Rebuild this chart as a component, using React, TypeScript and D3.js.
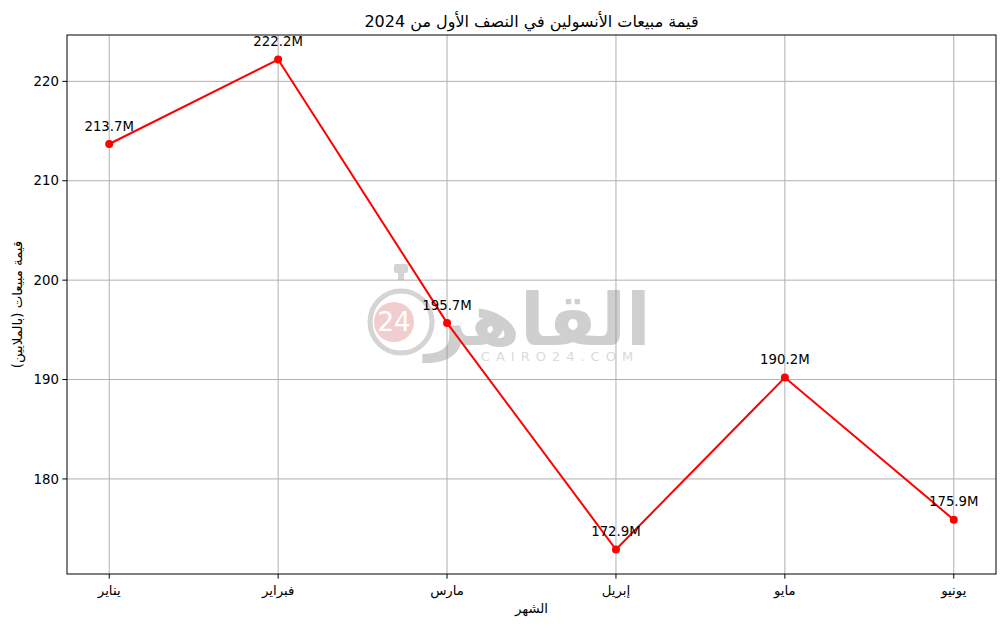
import React from "react";
import * as d3 from "d3";

const months = ["يناير", "فبراير", "مارس", "إبريل", "مايو", "يونيو"];
const sales = [213.7, 222.2, 195.7, 172.9, 190.2, 175.9];
const yTicks = [180, 190, 200, 210, 220];

const W = 1005, H = 628;
const L = 67, R = 996, T = 35, B = 574;

export default function App() {
  const x = d3.scaleLinear().domain([-0.25, months.length - 1 + 0.25]).range([L, R]);
  const mn = d3.min(sales)!, mx = d3.max(sales)!;
  const pad = (mx - mn) * 0.05;
  const y = d3.scaleLinear().domain([mn - pad, mx + pad]).range([B, T]);
  const line = d3.line<number>().x((_, i) => x(i)).y(d => y(d));
  const font = "DejaVu Sans, sans-serif";
  return (
    <svg width={W} height={H} style={{ position: "absolute", left: 0, top: 0, background: "#fff" }} fontFamily={font}>
      <rect x={0} y={0} width={W} height={H} fill="#fff" />
      {/* grid */}
      {months.map((_, i) => (
        <line key={"gx" + i} x1={x(i)} x2={x(i)} y1={T} y2={B} stroke="#b0b0b0" strokeWidth={1} />
      ))}
      {yTicks.map(t => (
        <line key={"gy" + t} x1={L} x2={R} y1={y(t)} y2={y(t)} stroke="#b0b0b0" strokeWidth={1} />
      ))}
      {/* watermark */}
      <g opacity={0.42}>
        <circle cx={401} cy={322} r={31} fill="none" stroke="#9a9a9a" strokeWidth={5} />
        <rect x={394} y={264} width={14} height={9} fill="#9a9a9a" rx={2} />
        <rect x={398} y={272} width={6} height={8} fill="#9a9a9a" />
        <circle cx={394} cy={322} r={20} fill="#e28a8a" />
        <text x={394} y={331} textAnchor="middle" fontSize={26} fill="#fff">24</text>
        <text x={538} y={345} textAnchor="middle" fontSize={72} fontWeight="bold" fill="#8f8f8f">القاهر</text>
        <text x={560} y={361} textAnchor="middle" fontSize={13} fill="#a8a8a8" letterSpacing={6}>CAIRO24.COM</text>
      </g>
      {/* axes frame */}
      <rect x={L} y={T} width={R - L} height={B - T} fill="none" stroke="#000" strokeWidth={1} />
      {yTicks.map(t => (
        <g key={"ty" + t}>
          <line x1={L - 4.7} x2={L} y1={y(t)} y2={y(t)} stroke="#000" strokeWidth={1} />
          <text x={L - 8} y={y(t)} dy="0.35em" textAnchor="end" fontSize={13.3} fill="#000">{t}</text>
        </g>
      ))}
      {months.map((m, i) => (
        <g key={"tx" + i}>
          <line x1={x(i)} x2={x(i)} y1={B} y2={B + 4.7} stroke="#000" strokeWidth={1} />
          <text x={x(i)} y={B + 21} textAnchor="middle" fontSize={13.3} fill="#000">{m}</text>
        </g>
      ))}
      {/* data */}
      <path d={line(sales) || ""} fill="none" stroke="#ff0000" strokeWidth={2} />
      {sales.map((v, i) => (
        <circle key={"p" + i} cx={x(i)} cy={y(v)} r={4} fill="#ff0000" />
      ))}
      {sales.map((v, i) => (
        <text key={"l" + i} x={x(i)} y={y(v) - 13.3} textAnchor="middle" fontSize={13.3} fill="#000">{v.toFixed(1)}M</text>
      ))}
      {/* titles */}
      <text x={(L + R) / 2} y={27} textAnchor="middle" fontSize={16} fill="#000">قيمة مبيعات الأنسولين في النصف الأول من 2024</text>
      <text x={(L + R) / 2} y={613} textAnchor="middle" fontSize={13.3} fill="#000">الشهر</text>
      <text transform={`translate(22, ${(T + B) / 2}) rotate(-90)`} textAnchor="middle" fontSize={13.3} fill="#000">قيمة مبيعات (بالملايين)</text>
    </svg>
  );
}
